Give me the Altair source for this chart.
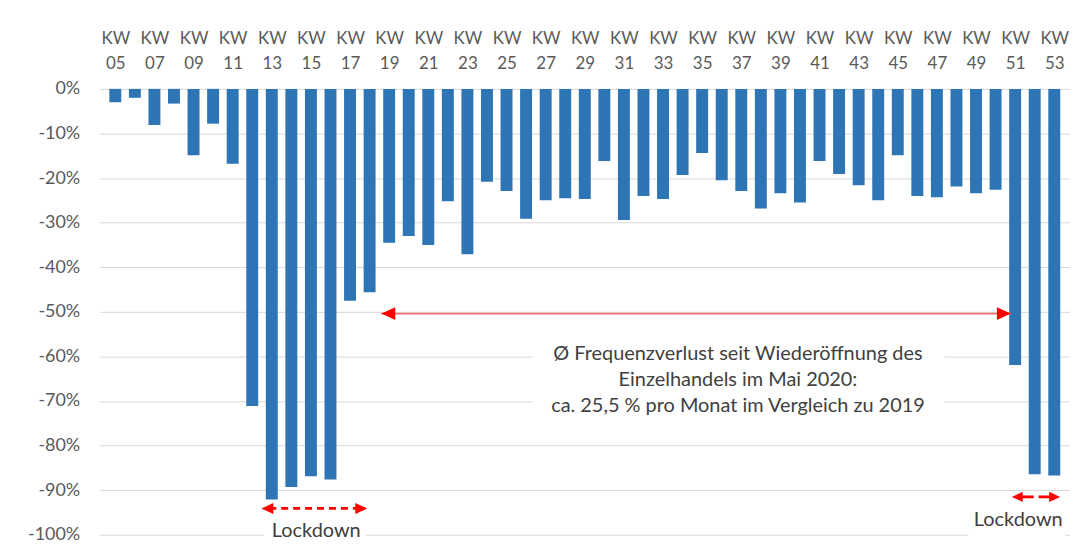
import altair as alt
import pandas as pd

# ---- data ----
weeks = list(range(5, 54))
values = [-3.0, -2.0, -8.1, -3.3, -14.9, -7.8, -16.8, -71.1, -92.1, -89.3,
          -86.9, -87.6, -47.5, -45.6, -34.5, -33.0, -35.0, -25.2, -37.1, -20.8,
          -22.9, -29.1, -25.0, -24.5, -24.7, -16.2, -29.4, -24.0, -24.7, -19.3,
          -14.4, -20.5, -22.9, -26.8, -23.4, -25.5, -16.2, -19.1, -21.6, -25.0,
          -14.9, -24.0, -24.3, -21.9, -23.4, -22.6, -61.9, -86.4, -86.7]
tick_weeks = list(range(5, 54, 2))
y_ticks = list(range(-100, 1, 10))

# annotation geometry (in data units)
main_arrow_x = [18.60, 50.78]
main_arrow_y = -50.4
dash_arrow_x = [12.47, 17.88]
dash_arrow_y = -94.1
small_left_x = [50.83, 51.95]
small_right_x = [52.20, 53.30]
small_arrow_y = -91.5
lockdown_x = [15.27, 51.16]
lockdown_y = [-100.6, -98.1]
note_lines = ["Ø Frequenzverlust seit Wiederöffnung des",
              "Einzelhandels im Mai 2020:",
              "ca. 25,5 % pro Monat im Vergleich zu 2019"]
note_x = 36.83
note_y = [-60.7, -66.6, -72.5]
mask_x = [12.6, 48.62, 26.3]
mask_x2 = [17.8, 53.55, 47.4]
mask_y = [-97.0, -97.0, -56.0]
mask_y2 = [-102.0, -102.0, -75.0]

FONT = "Lato"
RED = "#ff0000"
BLUE = "#2e75b6"

df = pd.DataFrame({"week": weeks, "value": values})

xscale = alt.Scale(domain=[4.45, 53.55], nice=False, zero=False)
yscale = alt.Scale(domain=[-100, 0], nice=False)

x_axis = alt.Axis(
    orient="top", values=tick_weeks, grid=False, domain=False, ticks=False,
    labelExpr="['KW', (datum.value < 10 ? '0' : '') + datum.value]",
    labelFont=FONT, labelFontSize=17, labelColor="#595959",
    labelLineHeight=26, labelPadding=42, labelOverlap=False, labelFlush=False,
    title=None,
)
y_axis = alt.Axis(
    values=y_ticks, grid=True, gridColor="#d9d9d9", gridWidth=1,
    domain=False, ticks=False, tickSize=0,
    labelExpr="datum.value + '%'", labelFont=FONT, labelFontSize=18,
    labelColor="#595959", labelPadding=20, title=None,
)

bars = alt.Chart(df).mark_bar(size=12, color=BLUE).encode(
    x=alt.X("week:Q", scale=xscale, axis=x_axis),
    y=alt.Y("value:Q", scale=yscale, axis=y_axis),
    y2=alt.datum(0),
)

masks_df = pd.DataFrame({"x": mask_x, "x2": mask_x2, "y": mask_y, "y2": mask_y2})
masks = alt.Chart(masks_df).mark_rect(color="white").encode(
    x=alt.X("x:Q", scale=xscale), x2="x2:Q",
    y=alt.Y("y:Q", scale=yscale), y2="y2:Q",
)

main_line = alt.Chart(pd.DataFrame({"x": [main_arrow_x[0]], "x2": [main_arrow_x[1]], "y": [main_arrow_y]})).mark_rule(
    color="#f4716f", strokeWidth=1.6).encode(
    x=alt.X("x:Q", scale=xscale), x2="x2:Q", y=alt.Y("y:Q", scale=yscale))

dash_line = alt.Chart(pd.DataFrame({"x": [dash_arrow_x[0] + 0.4], "x2": [dash_arrow_x[1] - 0.4], "y": [dash_arrow_y]})).mark_rule(
    color=RED, strokeWidth=2.8, strokeDash=[7, 5]).encode(
    x=alt.X("x:Q", scale=xscale), x2="x2:Q", y=alt.Y("y:Q", scale=yscale))

small_lines = alt.Chart(pd.DataFrame({"x": [small_left_x[0] + 0.3, small_right_x[0]],
                                      "x2": [small_left_x[1], small_right_x[1] - 0.3],
                                      "y": [small_arrow_y, small_arrow_y]})).mark_rule(
    color=RED, strokeWidth=2.8).encode(
    x=alt.X("x:Q", scale=xscale), x2="x2:Q", y=alt.Y("y:Q", scale=yscale))

LEFT_HEAD = "M0,0 L2,-0.93 L2,0.93 Z"
RIGHT_HEAD = "M0,0 L-2,-0.93 L-2,0.93 Z"

def heads(xs, y, shape, size):
    return alt.Chart(pd.DataFrame({"x": xs, "y": [y] * len(xs)})).mark_point(
        shape=shape, filled=True, color=RED, opacity=1, size=size, strokeWidth=0).encode(
        x=alt.X("x:Q", scale=xscale), y=alt.Y("y:Q", scale=yscale))

head_layers = [
    heads([main_arrow_x[0]], main_arrow_y, LEFT_HEAD, 196),
    heads([main_arrow_x[1]], main_arrow_y, RIGHT_HEAD, 196),
    heads([dash_arrow_x[0]], dash_arrow_y, LEFT_HEAD, 144),
    heads([dash_arrow_x[1]], dash_arrow_y, RIGHT_HEAD, 144),
    heads([small_left_x[0]], small_arrow_y, LEFT_HEAD, 121),
    heads([small_right_x[1]], small_arrow_y, RIGHT_HEAD, 121),
]

lock = alt.Chart(pd.DataFrame({"x": lockdown_x, "y": lockdown_y, "t": ["Lockdown", "Lockdown"]})).mark_text(
    font=FONT, fontSize=20, color="#404040", align="center", baseline="alphabetic").encode(
    x=alt.X("x:Q", scale=xscale), y=alt.Y("y:Q", scale=yscale), text="t:N")

note = alt.Chart(pd.DataFrame({"x": [note_x] * 3, "y": note_y, "t": note_lines})).mark_text(
    font=FONT, fontSize=20, color="#404040", align="center", baseline="alphabetic").encode(
    x=alt.X("x:Q", scale=xscale), y=alt.Y("y:Q", scale=yscale), text="t:N")

chart = alt.layer(
    bars, masks, main_line, dash_line, small_lines, *head_layers, lock, note
).properties(
    width=975, height=448,
    autosize=alt.AutoSizeParams(type="none"),
    padding={"left": 92, "top": 80, "right": 0, "bottom": 8},
    background="white",
).configure_view(stroke=None)

chart.save("out.html", embed_options={"renderer": "svg", "actions": False})
